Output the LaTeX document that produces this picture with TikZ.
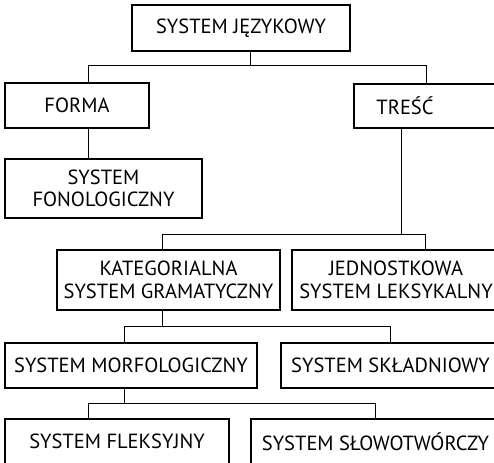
\documentclass[tikz,border=0pt]{standalone}
\usepackage{fontspec}
\setmainfont{PT Sans}
\begin{document}
\begin{tikzpicture}[x=1pt,y=-1pt,
  box/.style={draw, line width=1.1pt, inner sep=0pt, align=center, font=\fontsize{20.5}{22.5}\selectfont},
  txt/.style={inner sep=0pt, font=\fontsize{20.5}{22.5}\selectfont},
  conn/.style={line width=0.9pt}]
\useasboundingbox (0,0) rectangle (494,462);
\node[box, minimum width=218, minimum height=46] (top) at (241,28) {SYSTEM JĘZYKOWY};
\node[box, minimum width=144, minimum height=45] (forma) at (77,105.5) {FORMA};
\node[box, minimum width=146, minimum height=44] (tresc) at (427,106) {};
\node[txt] (trescT) at (405,106) {TREŚĆ};
\node[box, minimum width=197, minimum height=59] (fono) at (103.5,188.5) {SYSTEM\\FONOLOGICZNY};
\node[box, minimum width=223, minimum height=60] (kat) at (168.5,280) {KATEGORIALNA\\SYSTEM GRAMATYCZNY};
\node[box, minimum width=208, minimum height=60] (jed) at (396,280) {JEDNOSTKOWA\\SYSTEM LEKSYKALNY};
\node[box, minimum width=252, minimum height=45] (morfo) at (131,365.5) {SYSTEM MORFOLOGICZNY};
\node[box, minimum width=219, minimum height=45] (skl) at (390.5,365.5) {SYSTEM SKŁADNIOWY};
\node[box, minimum width=224, minimum height=45] (flek) at (117,441.5) {SYSTEM FLEKSYJNY};
\node[box, minimum width=249, minimum height=45] (slow) at (375.5,441.5) {SYSTEM SŁOWOTWÓRCZY};
\coordinate (j1) at (250,65);
\coordinate (fL) at (88,65);
\coordinate (fR) at (426,65);
\coordinate (t1) at (401,234);
\coordinate (kL) at (162,234);
\coordinate (kR) at (425,234);
\coordinate (mL) at (124,326);
\coordinate (mR) at (390,326);
\coordinate (sL) at (88,403);
\coordinate (sR) at (375,403);
\draw[conn] (j1 |- top.south) -- (j1);
\draw[conn] (fL |- forma.north) -- (fL) -- (fR) -- (fR |- tresc.north);
\draw[conn] (fL |- forma.south) -- (fL |- fono.north);
\draw[conn] (t1 |- tresc.south) -- (t1);
\draw[conn] (kL |- kat.north) -- (kL) -- (kR) -- (kR |- jed.north);
\draw[conn] (kL |- kat.south) -- (kL |- mL);
\draw[conn] (mL |- morfo.north) -- (mL) -- (mR) -- (mR |- skl.north);
\draw[conn] (mL |- morfo.south) -- (mL |- sL);
\draw[conn] (sL |- flek.north) -- (sL) -- (sR) -- (sR |- slow.north);
\end{tikzpicture}
\end{document}
